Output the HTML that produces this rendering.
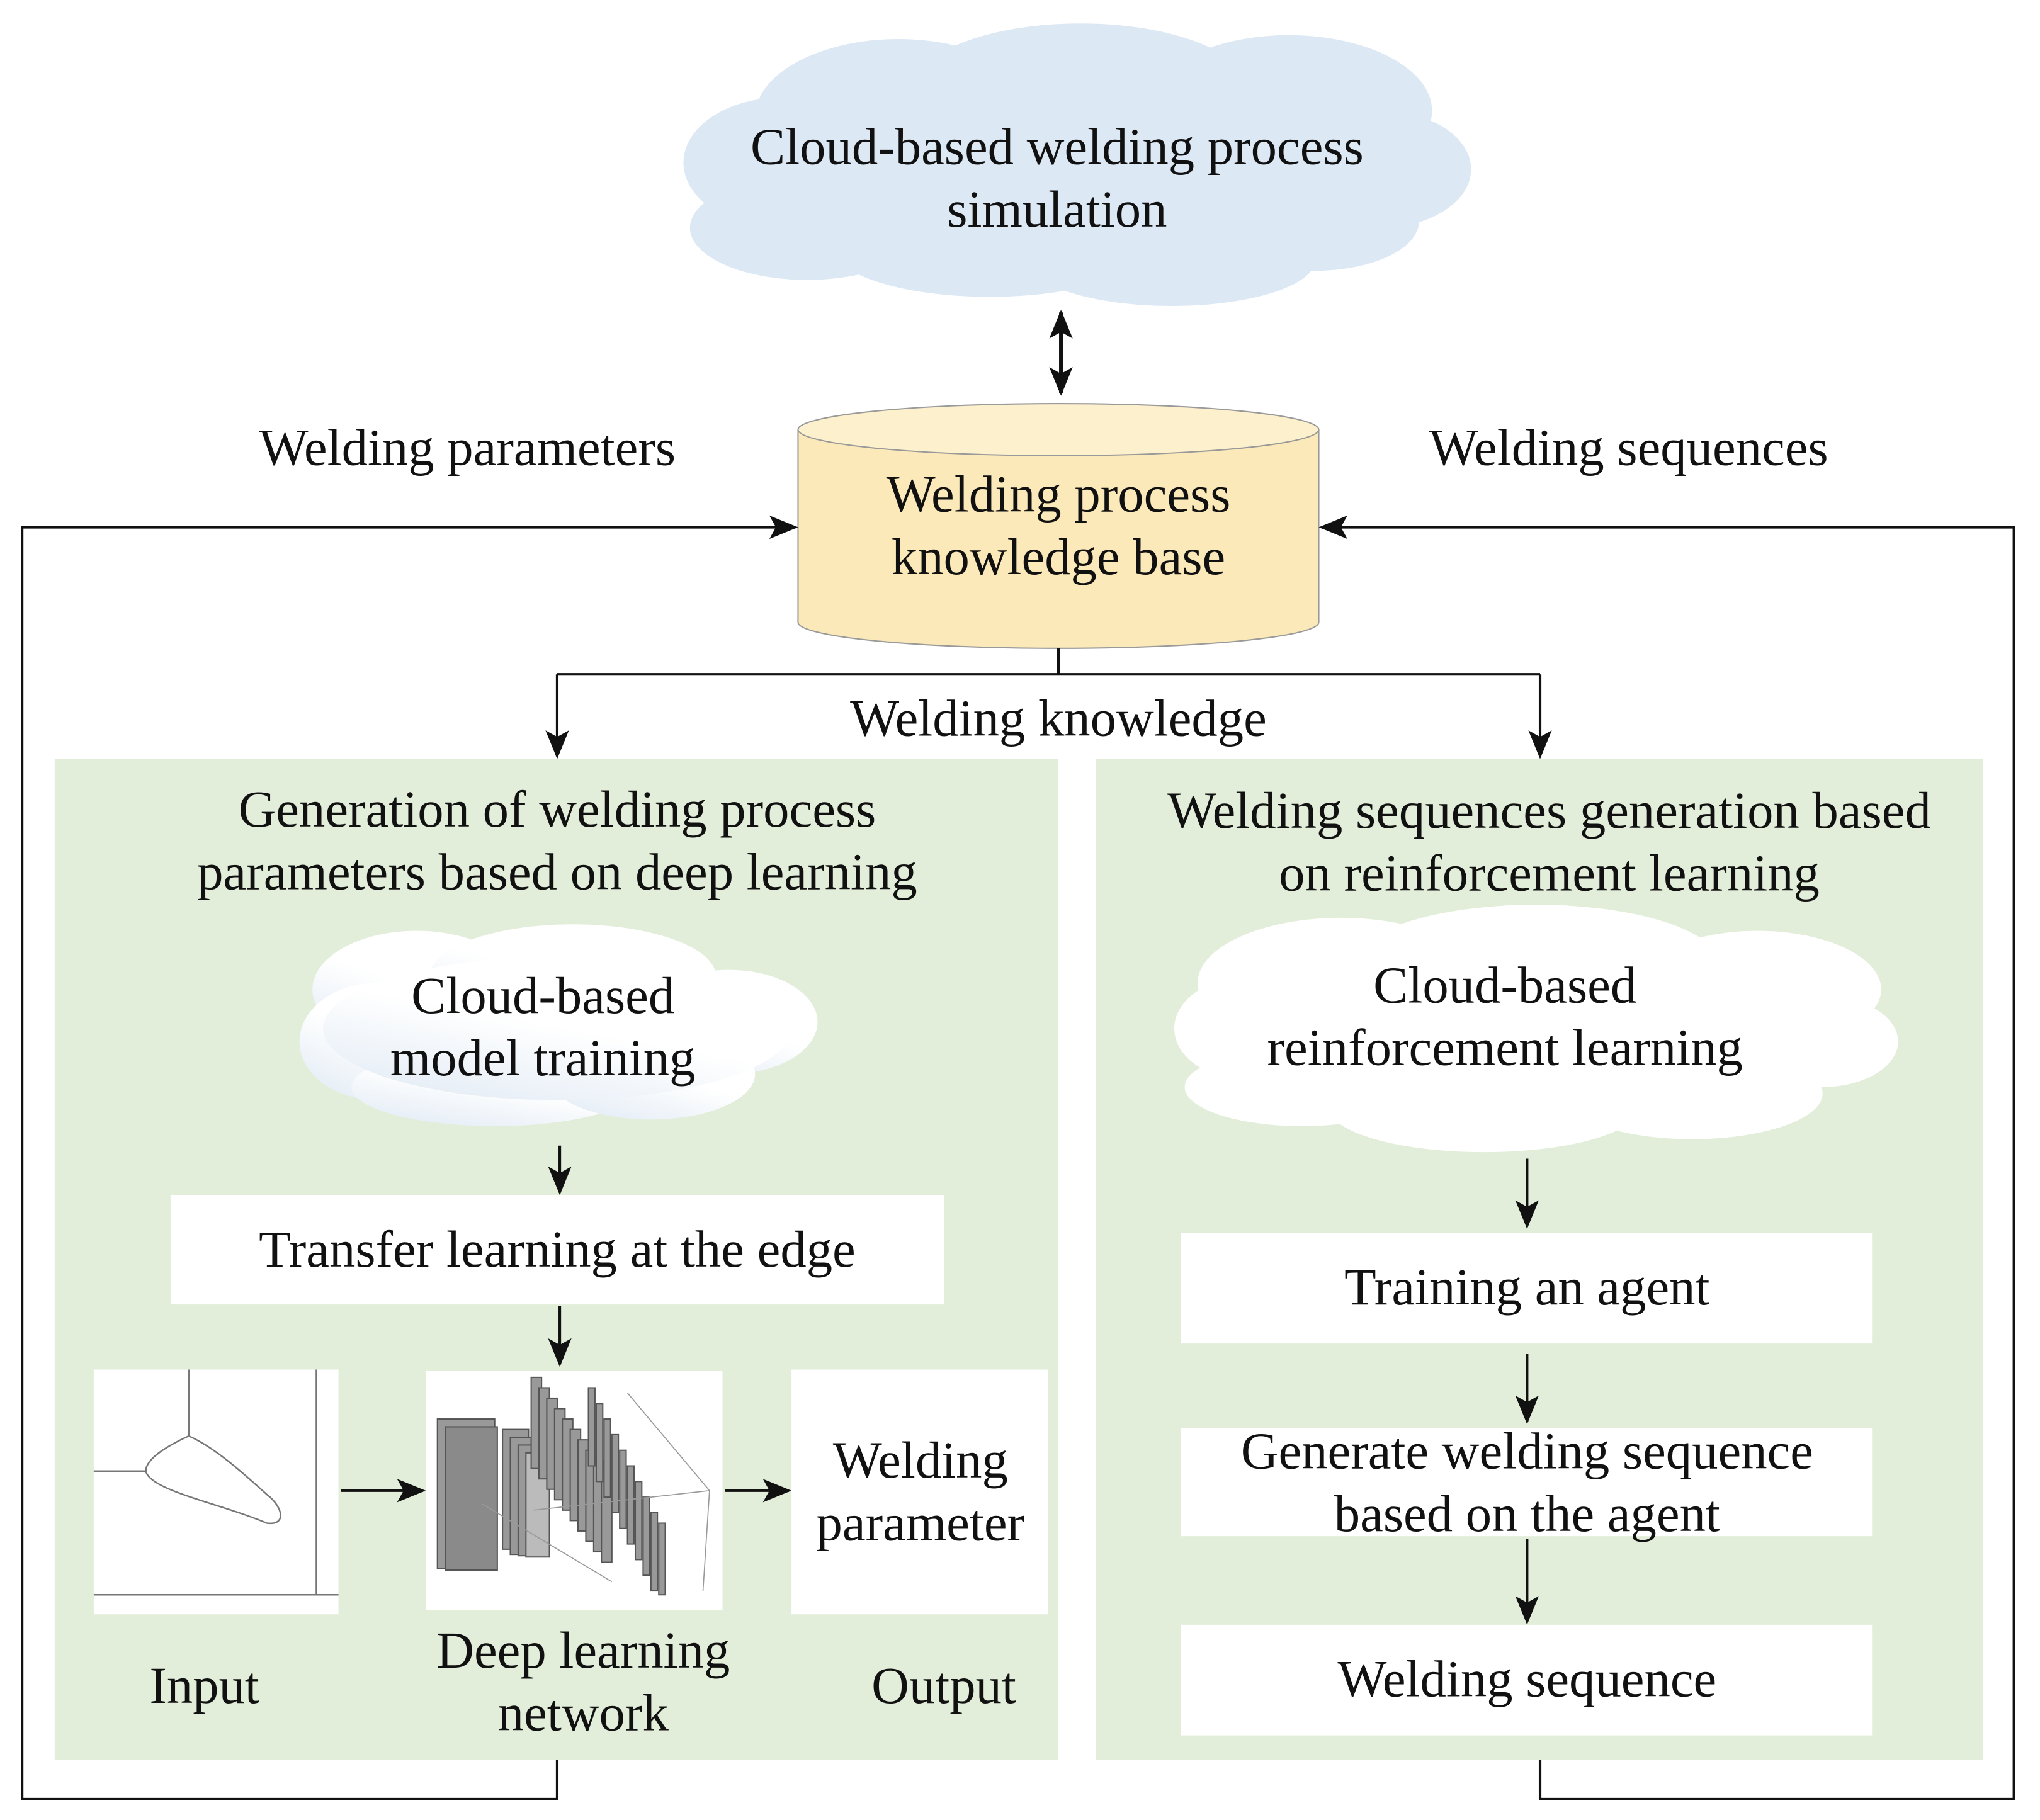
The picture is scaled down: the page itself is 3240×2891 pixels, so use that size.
<!DOCTYPE html>
<html><head><meta charset="utf-8"><style>
html,body{margin:0;padding:0;background:#fff;}
svg{display:block;}
text{font-family:"Liberation Serif",serif;font-size:40px;fill:#111;text-anchor:middle;}
</style></head><body>
<svg width="3240" height="2891" viewBox="0 0 1567 1398" preserveAspectRatio="none" xmlns="http://www.w3.org/2000/svg">
<defs>
<marker id="ah2" markerWidth="22" markerHeight="22" refX="20" refY="11" orient="auto-start-reverse" markerUnits="userSpaceOnUse" viewBox="0 0 22 22">
<path d="M0,2 L22,11 L0,20 L5,11 z" fill="#111"/></marker>
<linearGradient id="cg" x1="0" y1="1" x2="0.6" y2="0"><stop offset="0" stop-color="#dfe9f4"/><stop offset="0.6" stop-color="#fff"/></linearGradient>
</defs>
<g fill="#dce8f4">
<ellipse cx="690" cy="90" rx="110" ry="60"/><ellipse cx="830" cy="70" rx="130" ry="52"/>
<ellipse cx="990" cy="85" rx="110" ry="58"/><ellipse cx="1060" cy="130" rx="70" ry="45"/>
<ellipse cx="600" cy="125" rx="75" ry="50"/><ellipse cx="620" cy="175" rx="90" ry="40"/>
<ellipse cx="760" cy="190" rx="120" ry="38"/><ellipse cx="900" cy="200" rx="110" ry="35"/>
<ellipse cx="1010" cy="170" rx="80" ry="38"/><ellipse cx="825" cy="130" rx="250" ry="70"/>
</g>
<text x="812" y="126">Cloud-based welding process</text>
<text x="812" y="174">simulation</text>
<line x1="815" y1="240" x2="815" y2="302" stroke="#111" stroke-width="3" marker-start="url(#ah2)" marker-end="url(#ah2)"/>
<path d="M613,330 L613,478 A200,20 0 0 0 1013,478 L1013,330 z" fill="#fbe9b9" stroke="#999" stroke-width="1"/>
<ellipse cx="813" cy="330" rx="200" ry="20" fill="#fdf0cc" stroke="#999" stroke-width="1"/>
<text x="813" y="393">Welding process</text>
<text x="813" y="441">knowledge base</text>
<text x="359" y="357">Welding parameters</text>
<text x="1251" y="357">Welding sequences</text>
<g fill="none" stroke="#111" stroke-width="2">
<path d="M428,1352 L428,1382 L17,1382 L17,405 L611,405" marker-end="url(#ah2)"/>
<path d="M1183,1352 L1183,1382 L1547,1382 L1547,405 L1015,405" marker-end="url(#ah2)"/>
<path d="M813,498 L813,518"/>
<path d="M428,518 L1183,518"/>
<path d="M428,518 L428,581" marker-end="url(#ah2)"/>
<path d="M1183,518 L1183,581" marker-end="url(#ah2)"/>
</g>
<text x="813" y="565">Welding knowledge</text>
<rect x="42" y="583" width="771" height="769" fill="#e2eed9"/>
<rect x="842" y="583" width="681" height="769" fill="#e2eed9"/>
<text x="428" y="635">Generation of welding process</text>
<text x="428" y="683">parameters based on deep learning</text>
<text x="1190" y="636">Welding sequences generation based</text>
<text x="1190" y="684">on reinforcement learning</text>
<g fill="url(#cg)">
<ellipse cx="320" cy="760" rx="80" ry="45"/><ellipse cx="440" cy="750" rx="110" ry="40"/>
<ellipse cx="560" cy="785" rx="68" ry="40"/><ellipse cx="290" cy="800" rx="60" ry="45"/>
<ellipse cx="380" cy="835" rx="110" ry="30"/><ellipse cx="500" cy="825" rx="80" ry="35"/>
<ellipse cx="428" cy="790" rx="180" ry="55"/>
</g>
<text x="417" y="778">Cloud-based</text>
<text x="417" y="826">model training</text>
<g fill="#fff">
<ellipse cx="1030" cy="755" rx="110" ry="50"/><ellipse cx="1180" cy="740" rx="140" ry="45"/>
<ellipse cx="1350" cy="760" rx="95" ry="45"/><ellipse cx="1400" cy="800" rx="58" ry="35"/>
<ellipse cx="960" cy="790" rx="58" ry="40"/><ellipse cx="1000" cy="835" rx="90" ry="30"/>
<ellipse cx="1140" cy="850" rx="120" ry="35"/><ellipse cx="1300" cy="840" rx="100" ry="35"/>
<ellipse cx="1180" cy="795" rx="240" ry="65"/>
</g>
<text x="1156" y="770">Cloud-based</text>
<text x="1156" y="818">reinforcement learning</text>
<g stroke="#111" stroke-width="2" fill="none">
<line x1="430" y1="880" x2="430" y2="916" marker-end="url(#ah2)"/>
<line x1="430" y1="1003" x2="430" y2="1048" marker-end="url(#ah2)"/>
<line x1="262" y1="1145" x2="325" y2="1145" marker-end="url(#ah2)"/>
<line x1="557" y1="1145" x2="606" y2="1145" marker-end="url(#ah2)"/>
<line x1="1173" y1="890" x2="1173" y2="942" marker-end="url(#ah2)"/>
<line x1="1173" y1="1040" x2="1173" y2="1092" marker-end="url(#ah2)"/>
<line x1="1173" y1="1182" x2="1173" y2="1246" marker-end="url(#ah2)"/>
</g>
<rect x="131" y="918" width="594" height="84" fill="#fff"/>
<text x="428" y="973">Transfer learning at the edge</text>
<rect x="72" y="1052" width="188" height="188" fill="#fff"/>
<g stroke="#777" stroke-width="1.2" fill="none">
<path d="M145,1052 L145,1103"/>
<path d="M72,1130 L112,1130"/>
<path d="M72,1225 L260,1225"/>
<path d="M243,1052 L243,1225"/>
<path d="M145,1103 C130,1110 112,1120 112,1130 C115,1145 170,1155 205,1170 C220,1172 218,1158 205,1148 C185,1130 165,1112 145,1103 z"/>
</g>
<rect x="327" y="1053" width="228" height="184" fill="#fff"/>
<g stroke="#555" stroke-width="1" fill="#999">
<rect x="336" y="1090" width="44" height="115"/><rect x="342" y="1096" width="40" height="110" fill="#8a8a8a"/>
<rect x="386" y="1098" width="20" height="92"/><rect x="392" y="1104" width="20" height="90"/><rect x="398" y="1110" width="20" height="85"/><rect x="404" y="1116" width="18" height="80" fill="#bbb"/>
<rect x="408" y="1058" width="8" height="70"/><rect x="414" y="1066" width="8" height="70"/><rect x="420" y="1074" width="8" height="70"/><rect x="426" y="1082" width="8" height="70"/><rect x="432" y="1090" width="8" height="70"/><rect x="438" y="1098" width="8" height="70"/><rect x="444" y="1106" width="8" height="70"/><rect x="450" y="1114" width="8" height="70"/><rect x="456" y="1122" width="8" height="70"/><rect x="462" y="1130" width="8" height="70"/>
<rect x="452" y="1066" width="5" height="60"/><rect x="458" y="1078" width="5" height="60"/><rect x="464" y="1090" width="5" height="60"/><rect x="470" y="1102" width="5" height="60"/><rect x="476" y="1114" width="5" height="60"/><rect x="482" y="1126" width="5" height="60"/><rect x="488" y="1138" width="5" height="60"/><rect x="494" y="1150" width="5" height="60"/><rect x="500" y="1162" width="5" height="60"/><rect x="506" y="1170" width="5" height="55"/>
</g>
<g stroke="#999" stroke-width="0.8" fill="none"><path d="M482,1070 L545,1145 L540,1222"/><path d="M370,1155 L470,1215"/><path d="M410,1160 L545,1145"/></g>
<rect x="608" y="1052" width="197" height="188" fill="#fff"/>
<text x="707" y="1135">Welding</text>
<text x="707" y="1183">parameter</text>
<text x="157" y="1308">Input</text>
<text x="448" y="1281">Deep learning</text>
<text x="448" y="1329">network</text>
<text x="725" y="1308">Output</text>
<rect x="907" y="947" width="531" height="85" fill="#fff"/>
<text x="1173" y="1002">Training an agent</text>
<rect x="907" y="1097" width="531" height="83" fill="#fff"/>
<text x="1173" y="1128">Generate welding sequence</text>
<text x="1173" y="1176">based on the agent</text>
<rect x="907" y="1248" width="531" height="85" fill="#fff"/>
<text x="1173" y="1303">Welding sequence</text>
</svg>
</body></html>
